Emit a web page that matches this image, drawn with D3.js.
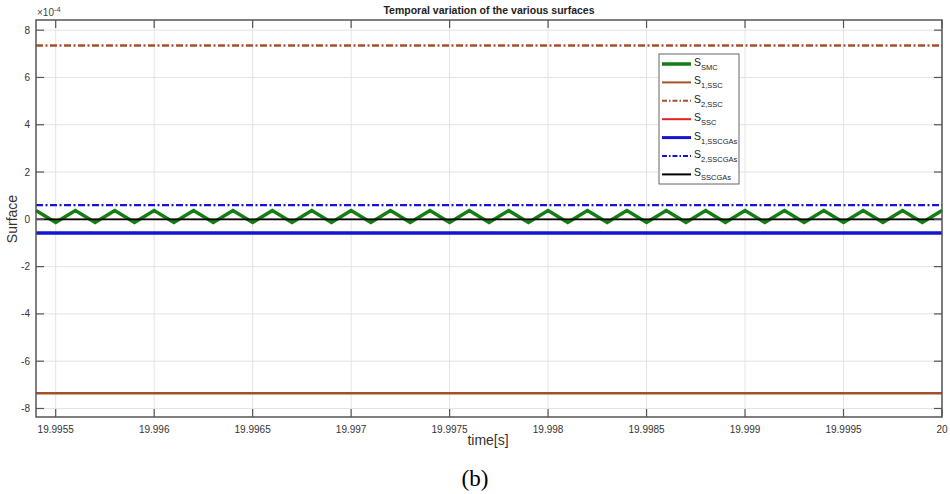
<!DOCTYPE html>
<html>
<head>
<meta charset="utf-8">
<script src="https://cdn.jsdelivr.net/npm/d3@7"></script>
<style>
  html, body { margin: 0; padding: 0; background: #fff; }
  svg { display: block; font-family: "Liberation Sans", Arial, sans-serif; }
</style>
</head>
<body>
<svg id="chart" width="950" height="494"></svg>
<script>
// ---------------- data ----------------
const xTicks = [19.9955, 19.996, 19.9965, 19.997, 19.9975, 19.998, 19.9985, 19.999, 19.9995, 20];
const xTickLabels = ["19.9955", "19.996", "19.9965", "19.997", "19.9975", "19.998", "19.9985", "19.999", "19.9995", "20"];
const yTicks = [-8e-4, -6e-4, -4e-4, -2e-4, 0, 2e-4, 4e-4, 6e-4, 8e-4];
const yTickLabels = ["-8", "-6", "-4", "-2", "0", "2", "4", "6", "8"];

// time samples of the sliding-mode surface (zig-zag)
const tSMC = [19.9954, 19.9955, 19.9956, 19.9957, 19.9958, 19.9959,
  19.9960, 19.9961, 19.9962, 19.9963, 19.9964, 19.9965, 19.9966, 19.9967, 19.9968, 19.9969,
  19.9970, 19.9971, 19.9972, 19.9973, 19.9974, 19.9975, 19.9976, 19.9977, 19.9978, 19.9979,
  19.9980, 19.9981, 19.9982, 19.9983, 19.9984, 19.9985, 19.9986, 19.9987, 19.9988, 19.9989,
  19.9990, 19.9991, 19.9992, 19.9993, 19.9994, 19.9995, 19.9996, 19.9997, 19.9998, 19.9999,
  20.0000];
const sSMC = [0.37e-4, -0.13e-4, 0.37e-4, -0.13e-4, 0.37e-4, -0.13e-4,
  0.37e-4, -0.13e-4, 0.37e-4, -0.13e-4, 0.37e-4, -0.13e-4, 0.37e-4, -0.13e-4, 0.37e-4, -0.13e-4,
  0.37e-4, -0.13e-4, 0.37e-4, -0.13e-4, 0.37e-4, -0.13e-4, 0.37e-4, -0.13e-4, 0.37e-4, -0.13e-4,
  0.37e-4, -0.13e-4, 0.37e-4, -0.13e-4, 0.37e-4, -0.13e-4, 0.37e-4, -0.13e-4, 0.37e-4, -0.13e-4,
  0.37e-4, -0.13e-4, 0.37e-4, -0.13e-4, 0.37e-4, -0.13e-4, 0.37e-4, -0.13e-4, 0.37e-4, -0.13e-4,
  0.37e-4];

// flat surfaces (start / end of window)
const tFlat = [19.99540, 20.0];
const s1SSC = [-7.36e-4, -7.36e-4];
const s2SSC = [7.35e-4, 7.35e-4];
const sSSC = [0, 0];
const s1SSCGAs = [-0.58e-4, -0.58e-4];
const s2SSCGAs = [0.6e-4, 0.6e-4];
const sSSCGAs = [0, 0];

const seriesNames = ["SMC", "1,SSC", "2,SSC", "SSC", "1,SSCGAs", "2,SSCGAs", "SSCGAs"];

// ---------------- layout ----------------
const svg = d3.select("#chart");
const L = 36, R = 942, T = 20, B = 417;
const x = d3.scaleLinear().domain([19.99540, 20.0]).range([L, R]);
const y = d3.scaleLinear().domain([-8.36e-4, 8.43e-4]).range([B, T]);

// grid
const grid = svg.append("g");
grid.selectAll("line.vx").data(xTicks).enter().append("line")
  .attr("x1", d => x(d)).attr("x2", d => x(d)).attr("y1", T).attr("y2", B)
  .attr("stroke", "#e3e3e3").attr("stroke-width", 1);
grid.selectAll("line.hy").data(yTicks).enter().append("line")
  .attr("y1", d => y(d)).attr("y2", d => y(d)).attr("x1", L).attr("x2", R)
  .attr("stroke", "#e3e3e3").attr("stroke-width", 1);

// lines
const line = d3.line().x(d => x(d[0])).y(d => y(d[1]));
const zip = (a, b) => a.map((v, i) => [v, b[i]]);
const dashDot = "7,2.5,2,2.5";
const styles = [
  { data: zip(tFlat, sSSC), color: "#e8201c", w: 1.2, dash: null },
  { data: zip(tFlat, s1SSC), color: "#a5502a", w: 2.5, dash: null },
  { data: zip(tFlat, s2SSC), color: "#a5502a", w: 2.5, dash: dashDot },
  { data: zip(tFlat, s1SSCGAs), color: "#1414d2", w: 3.5, dash: null },
  { data: zip(tFlat, s2SSCGAs), color: "#1414d2", w: 2.2, dash: dashDot },
  { data: zip(tSMC, sSMC), color: "#137f13", w: 3.5, dash: null },
  { data: zip(tFlat, sSSCGAs), color: "#000000", w: 1.8, dash: null }
];
const plot = svg.append("g");
styles.forEach(s => {
  plot.append("path").datum(s.data).attr("d", line)
    .attr("fill", "none").attr("stroke", s.color).attr("stroke-width", s.w)
    .attr("stroke-dasharray", s.dash).attr("stroke-linejoin", "miter");
});

// axes (box with inward ticks)
const axisColor = "#555";
const tickLen = 8;
const ax = svg.append("g").attr("stroke", axisColor).attr("stroke-width", 1.2);
xTicks.forEach(t => {
  ax.append("line").attr("x1", x(t)).attr("x2", x(t)).attr("y1", B).attr("y2", B - tickLen);
  ax.append("line").attr("x1", x(t)).attr("x2", x(t)).attr("y1", T).attr("y2", T + tickLen);
});
yTicks.forEach(t => {
  ax.append("line").attr("y1", y(t)).attr("y2", y(t)).attr("x1", L).attr("x2", L + tickLen);
  ax.append("line").attr("y1", y(t)).attr("y2", y(t)).attr("x1", R).attr("x2", R - tickLen);
});
svg.append("rect").attr("x", L).attr("y", T).attr("width", R - L).attr("height", B - T)
  .attr("fill", "none").attr("stroke", axisColor).attr("stroke-width", 1.5);

// tick labels
svg.append("g").selectAll("text").data(xTicks).enter().append("text")
  .attr("x", d => x(d)).attr("y", B + 16).attr("text-anchor", "middle")
  .attr("font-size", 10).attr("fill", "#333")
  .text((d, i) => xTickLabels[i]);
svg.append("g").selectAll("text").data(yTicks).enter().append("text")
  .attr("x", L - 6).attr("y", d => y(d) + 3.5).attr("text-anchor", "end")
  .attr("font-size", 10).attr("fill", "#333")
  .text((d, i) => yTickLabels[i]);

// exponent
const ex = svg.append("text").attr("x", L + 1).attr("y", 16).attr("font-size", 10).attr("fill", "#444");
ex.append("tspan").text("\u00d710");
ex.append("tspan").attr("dy", -4).attr("font-size", 7.5).text("-4");

// title and labels
svg.append("text").attr("x", 489).attr("y", 14).attr("text-anchor", "middle")
  .attr("font-size", 10.5).attr("font-weight", "bold").attr("fill", "#222")
  .text("Temporal variation of the various surfaces");
svg.append("text").attr("transform", "translate(17,219) rotate(-90)")
  .attr("text-anchor", "middle").attr("font-size", 14).attr("fill", "#333")
  .text("Surface");
svg.append("text").attr("x", 488).attr("y", 445).attr("text-anchor", "middle")
  .attr("font-size", 14).attr("fill", "#333").text("time[s]");
svg.append("text").attr("x", 475).attr("y", 486).attr("text-anchor", "middle")
  .attr("font-size", 23).attr("font-family", "Liberation Serif, Times New Roman, serif")
  .attr("fill", "#000").text("(b)");

// legend
const legX = 659, legY = 54, legW = 80, legH = 130;
svg.append("rect").attr("x", legX).attr("y", legY).attr("width", legW).attr("height", legH)
  .attr("fill", "#fff").attr("stroke", "#666").attr("stroke-width", 1);
const legStyles = [
  { color: "#137f13", w: 3.5, dash: null },
  { color: "#a5502a", w: 2, dash: null },
  { color: "#a5502a", w: 2, dash: "5,2,1.5,2" },
  { color: "#e8201c", w: 2, dash: null },
  { color: "#1414d2", w: 3, dash: null },
  { color: "#1414d2", w: 2, dash: "5,2,1.5,2" },
  { color: "#000000", w: 2, dash: null }
];
const leg = svg.append("g");
seriesNames.forEach((name, i) => {
  const yy = 64 + i * 18.4;
  leg.append("line").attr("x1", 662).attr("x2", 691).attr("y1", yy).attr("y2", yy)
    .attr("stroke", legStyles[i].color).attr("stroke-width", legStyles[i].w)
    .attr("stroke-dasharray", legStyles[i].dash);
  const tx = leg.append("text").attr("x", 694).attr("y", yy + 2).attr("font-size", 10.5).attr("fill", "#222");
  tx.append("tspan").text("S");
  tx.append("tspan").attr("dy", 4).attr("font-size", 7.5).text(name);
});
</script>
</body>
</html>
